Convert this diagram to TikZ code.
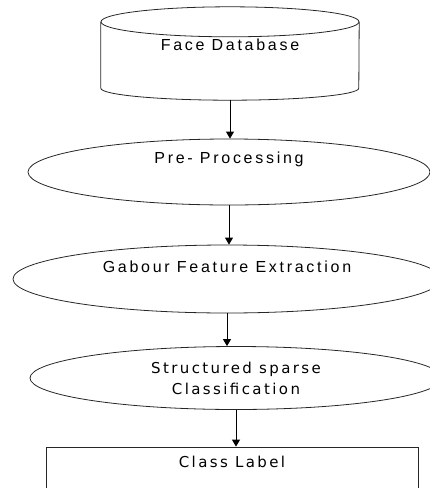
\documentclass[tikz,border=0pt]{standalone}
\usepackage{fontspec}
\newfontfamily\flowfont[LetterSpace=17]{Liberation Sans}
\newfontfamily\flowfontb[LetterSpace=16]{DejaVu Sans}
\usetikzlibrary{shapes.geometric, arrows.meta}

\begin{document}
\begin{tikzpicture}[
  x=1pt, y=-1pt,
  base/.style={draw=black!85, line width=0.8pt, inner sep=0pt},
  storebox/.style={inner sep=0pt, minimum width=258pt, minimum height=93pt,
    font=\flowfont\fontsize{16}{18}\selectfont, text height=11pt, text depth=17pt},
  proc/.style={base, ellipse, font=\flowfont\fontsize{16}{18}\selectfont, text height=11pt},
  procb/.style={base, ellipse, align=center, font=\flowfontb\fontsize{15}{21}\selectfont},
  result/.style={base, rectangle, minimum width=372pt, minimum height=60pt,
    font=\flowfontb\fontsize{15}{18}\selectfont, text height=11pt, text depth=30pt},
  arr/.style={-{Triangle[width=8pt,length=7pt]}, line width=0.9pt}
]
  \useasboundingbox (0,0) rectangle (430,488);
  \clip (0,0) rectangle (430,488);

  \node[storebox] (db) at (230,53.5) {Face Database};
  \node[proc, minimum width=402pt, minimum height=66pt, text depth=28pt] (pre) at (229,172) {Pre- Processing};
  \node[proc, minimum width=428pt, minimum height=68pt, text depth=24pt] (gab) at (227,279) {Gabour Feature Extraction};
  \node[procb, minimum width=412pt, minimum height=63pt] (cls) at (236,378) {Structured sparse\\Classification};
  \node[result] (lab) at (232,477) {Class Label};

  % database drum round the text
  \draw[base] ([yshift=-15pt]db.north) ellipse [x radius=129, y radius=15];
  \draw[base] ([yshift=-15pt]db.north west) -- ([yshift=12pt]db.south west)
    arc[start angle=180, end angle=0, x radius=129, y radius=12] -- ([yshift=-15pt]db.north east);

  \draw[arr] (db.south) -- (db.south |- pre.north);
  \draw[arr] (pre.south) -- (pre.south |- gab.north);
  \draw[arr] (gab.south) -- (gab.south |- cls.north);
  \draw[arr] (cls.south) -- (cls.south |- lab.north);
\end{tikzpicture}
\end{document}
